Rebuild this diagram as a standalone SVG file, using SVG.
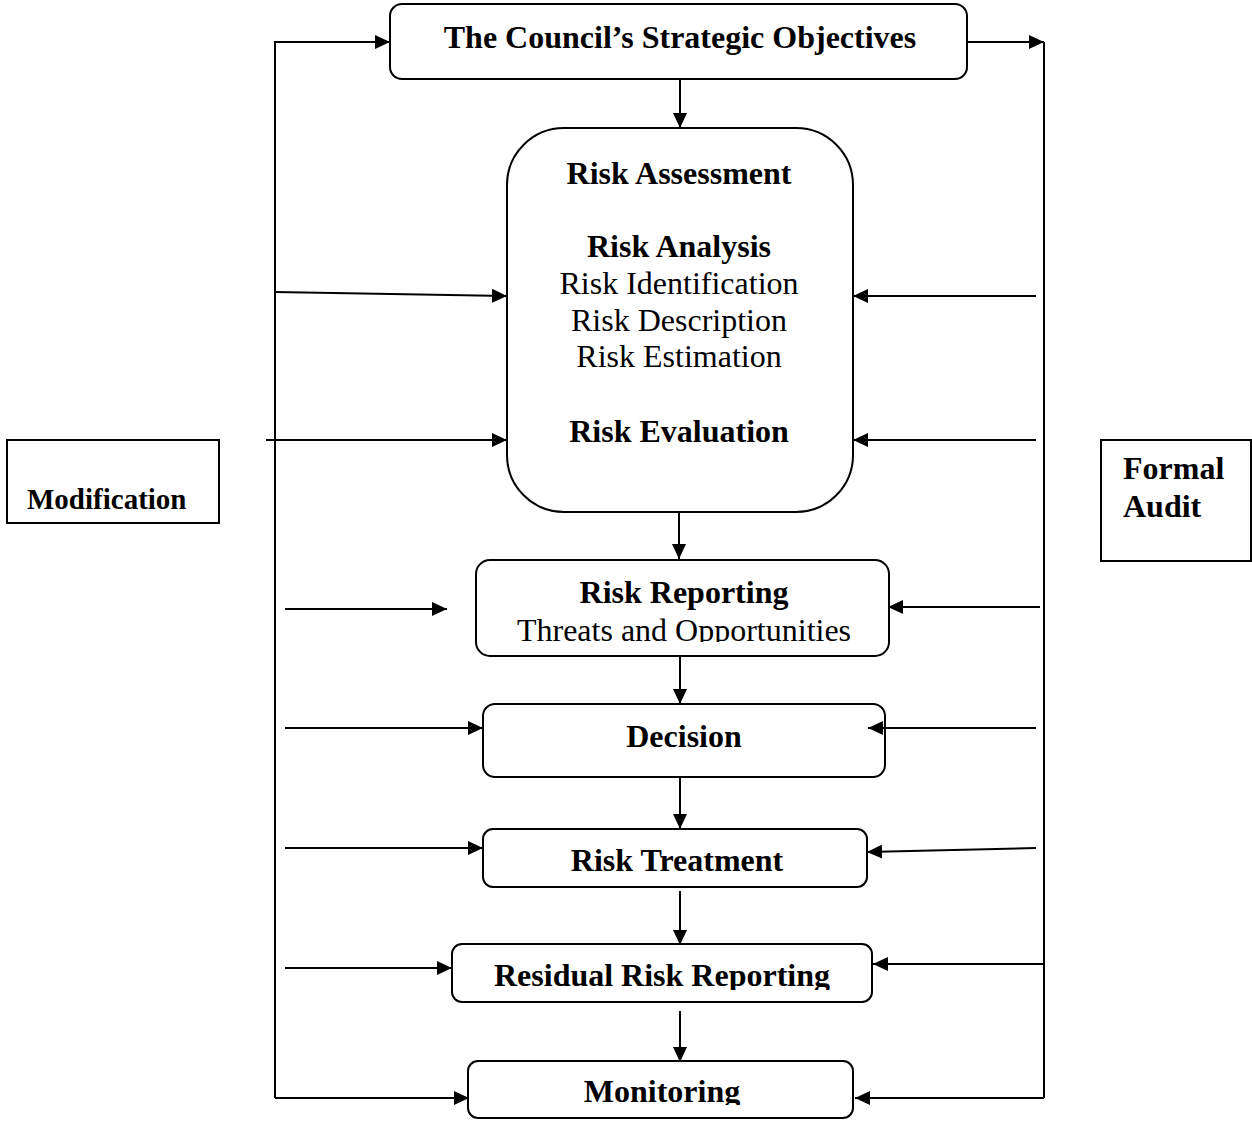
<svg xmlns="http://www.w3.org/2000/svg" width="1252" height="1121" viewBox="0 0 1252 1121">
<style>
.box{fill:#fff;stroke:#000;stroke-width:2}
.t{font-family:"Liberation Serif","Times New Roman",serif;font-size:32px;fill:#000}
.b{font-weight:bold}
.c{text-anchor:middle}
.ln{fill:none;stroke:#000;stroke-width:2}
.a{marker-end:url(#ah)}
</style>
<defs>
<marker id="ah" markerUnits="userSpaceOnUse" markerWidth="15" markerHeight="14" refX="15" refY="7" orient="auto" viewBox="0 0 15 14">
<path d="M0,0 L15,7 L0,14 z" fill="#000"/>
</marker>
<clipPath id="cRR"><rect x="476" y="560" width="415" height="82"/></clipPath>
<clipPath id="cRes"><rect x="452" y="944" width="422" height="46"/></clipPath>
<clipPath id="cMon"><rect x="468" y="1061" width="387" height="44"/></clipPath>
</defs>

<g id="objectives">
<rect class="box" x="390" y="4" width="577" height="75" rx="12"/>
<text class="t b c" x="680" y="48">The Council’s Strategic Objectives</text>
</g>

<g id="risk-assessment">
<rect class="box" x="507" y="128" width="346" height="384" rx="57"/>
<text class="t b c" x="679" y="184">Risk Assessment</text>
<text class="t b c" x="679" y="257">Risk Analysis</text>
<text class="t c" x="679" y="294">Risk Identification</text>
<text class="t c" x="679" y="331">Risk Description</text>
<text class="t c" x="679" y="367">Risk Estimation</text>
<text class="t b c" x="679" y="442">Risk Evaluation</text>
</g>

<g id="risk-reporting">
<rect class="box" x="476" y="560" width="413" height="96" rx="14"/>
<g clip-path="url(#cRR)">
<text class="t b c" x="684" y="603">Risk Reporting</text>
<text class="t c" x="684" y="641">Threats and Opportunities</text>
</g>
</g>

<g id="decision">
<rect class="box" x="483" y="704" width="402" height="73" rx="12"/>
<text class="t b c" x="684" y="747">Decision</text>
</g>

<g id="risk-treatment">
<rect class="box" x="483" y="829" width="384" height="58" rx="10"/>
<text class="t b c" x="677" y="871">Risk Treatment</text>
</g>

<g id="residual-risk-reporting">
<rect class="box" x="452" y="944" width="420" height="58" rx="10"/>
<g clip-path="url(#cRes)">
<text class="t b c" x="662" y="986">Residual Risk Reporting</text>
</g>
</g>

<g id="monitoring">
<rect class="box" x="468" y="1061" width="385" height="57" rx="10"/>
<g clip-path="url(#cMon)">
<text class="t b c" x="662" y="1102">Monitoring</text>
</g>
</g>

<g id="modification">
<rect x="7" y="440" width="212" height="83" fill="#fff" stroke="#000" stroke-width="2"/>
<text class="t b" x="27" y="509" style="font-size:29px">Modification</text>
</g>

<g id="formal-audit">
<rect x="1101" y="440" width="150" height="121" fill="#fff" stroke="#000" stroke-width="2"/>
<text class="t b" x="1123" y="479">Formal</text>
<text class="t b" x="1123" y="517">Audit</text>
</g>

<g id="connectors">
<polyline class="ln a" points="275,1098 275,42 390,42"/>
<line class="ln a" x1="275" y1="1098" x2="469" y2="1098"/>
<line class="ln a" x1="967" y1="42" x2="1044" y2="42"/>
<line class="ln" x1="1044" y1="42" x2="1044" y2="1098"/>
<line class="ln a" x1="1044" y1="1098" x2="855" y2="1098"/>

<line class="ln a" x1="680" y1="79" x2="680" y2="128"/>
<line class="ln a" x1="679" y1="512" x2="679" y2="559"/>
<line class="ln a" x1="680" y1="656" x2="680" y2="704"/>
<line class="ln a" x1="680" y1="777" x2="680" y2="829"/>
<line class="ln a" x1="680" y1="891" x2="680" y2="945"/>
<line class="ln a" x1="680" y1="1011" x2="680" y2="1062"/>

<line class="ln a" x1="275" y1="292" x2="507" y2="296"/>
<line class="ln a" x1="266" y1="440" x2="507" y2="440"/>
<line class="ln a" x1="1036" y1="296" x2="853" y2="296"/>
<line class="ln a" x1="1036" y1="440" x2="853" y2="440"/>

<line class="ln a" x1="285" y1="609" x2="447" y2="609"/>
<line class="ln a" x1="1040" y1="607" x2="888" y2="607"/>
<line class="ln a" x1="285" y1="728" x2="483" y2="728"/>
<line class="ln a" x1="1036" y1="728" x2="868" y2="728"/>
<line class="ln a" x1="285" y1="848" x2="483" y2="848"/>
<line class="ln a" x1="1036" y1="848" x2="867" y2="852"/>
<line class="ln a" x1="285" y1="968" x2="452" y2="968"/>
<line class="ln a" x1="1044" y1="964" x2="873" y2="964"/>
</g>
</svg>
